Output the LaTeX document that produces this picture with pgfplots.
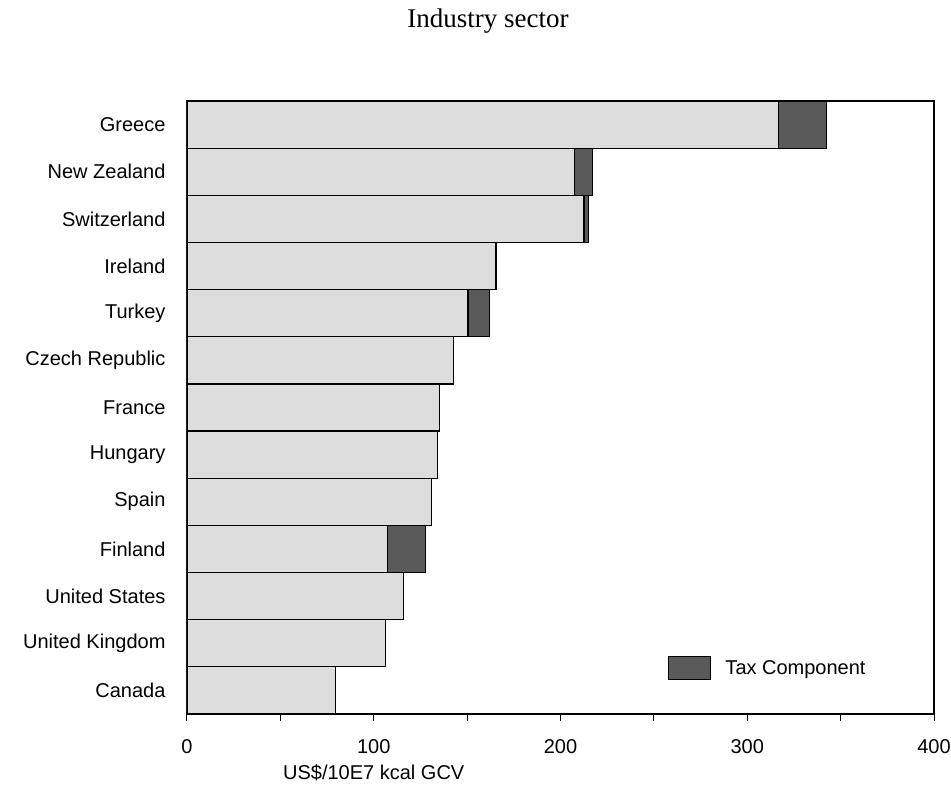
\documentclass[border=0pt]{standalone}
\usepackage{pgfplots}
\pgfplotsset{compat=1.18}
\usepackage{fontspec}
\setmainfont{Liberation Sans}
\newfontfamily\titlefont{Liberation Serif}
\definecolor{lightbar}{HTML}{DDDDDD}
\definecolor{darkbar}{HTML}{5A5A5A}
\begin{document}
\begin{tikzpicture}
\useasboundingbox (-187pt,-71pt) rectangle (764pt,714pt);
\node[anchor=base,font=\titlefont\fontsize{27}{32}\selectfont] at (301pt,686pt) {Industry sector};
\begin{axis}[
  at={(0pt,0pt)}, anchor=south west,
  scale only axis, width=747pt, height=613pt,
  xbar stacked, bar width=1,
  xmin=0, xmax=400, ymin=-0.5, ymax=12.5,
  xtick={0,100,200,300,400},
  minor xtick={50,150,250,350},
  xtick pos=bottom,
  ytick={0,...,12},
  yticklabels={Canada,United Kingdom,United States,Finland,Spain,Hungary,France,Czech Republic,Turkey,Ireland,Switzerland,New Zealand,Greece},
  tick align=outside,
  major tick length=7pt, minor tick length=7pt,
  ytick style={draw=none},
  every tick/.style={black,line width=1pt},
  axis line style={line width=1.2pt},
  x tick label style={yshift=-15pt},
  y tick label style={xshift=-11pt},
  tick label style={font=\fontsize{20}{24}\selectfont},
  /pgf/number format/assume math mode=true,
  xlabel={US\$/10E7 kcal GCV},
  xlabel style={at={(axis cs:100,-0.5)}, anchor=north, yshift=-47pt, font=\fontsize{20}{24}\selectfont},
  legend style={at={(axis cs:256,0.48)}, anchor=west, draw=none, fill=none, font=\fontsize{20}{24}\selectfont},
  legend image code/.code={\draw[#1] (0pt,-11.5pt) rectangle (42pt,11.5pt);},
  legend cell align=left,
]
\addplot+[forget plot, fill=lightbar, draw=black, line width=1.2pt] coordinates {
  (79.5,0) (106.5,1) (116,2) (107.5,3) (131,4) (134,5) (135,6) (142.6,7) (150.5,8) (165.5,9) (212.6,10) (207.4,11) (316.6,12)
};
\addplot+[fill=darkbar, draw=black, line width=1.2pt] coordinates {
  (0,0) (0,1) (0,2) (20.3,3) (0,4) (0,5) (0,6) (0,7) (11.4,8) (0,9) (2.3,10) (9.6,11) (25.9,12)
};
\addlegendentry{\hspace{12pt}Tax Component}
\end{axis}
\end{tikzpicture}
\end{document}
